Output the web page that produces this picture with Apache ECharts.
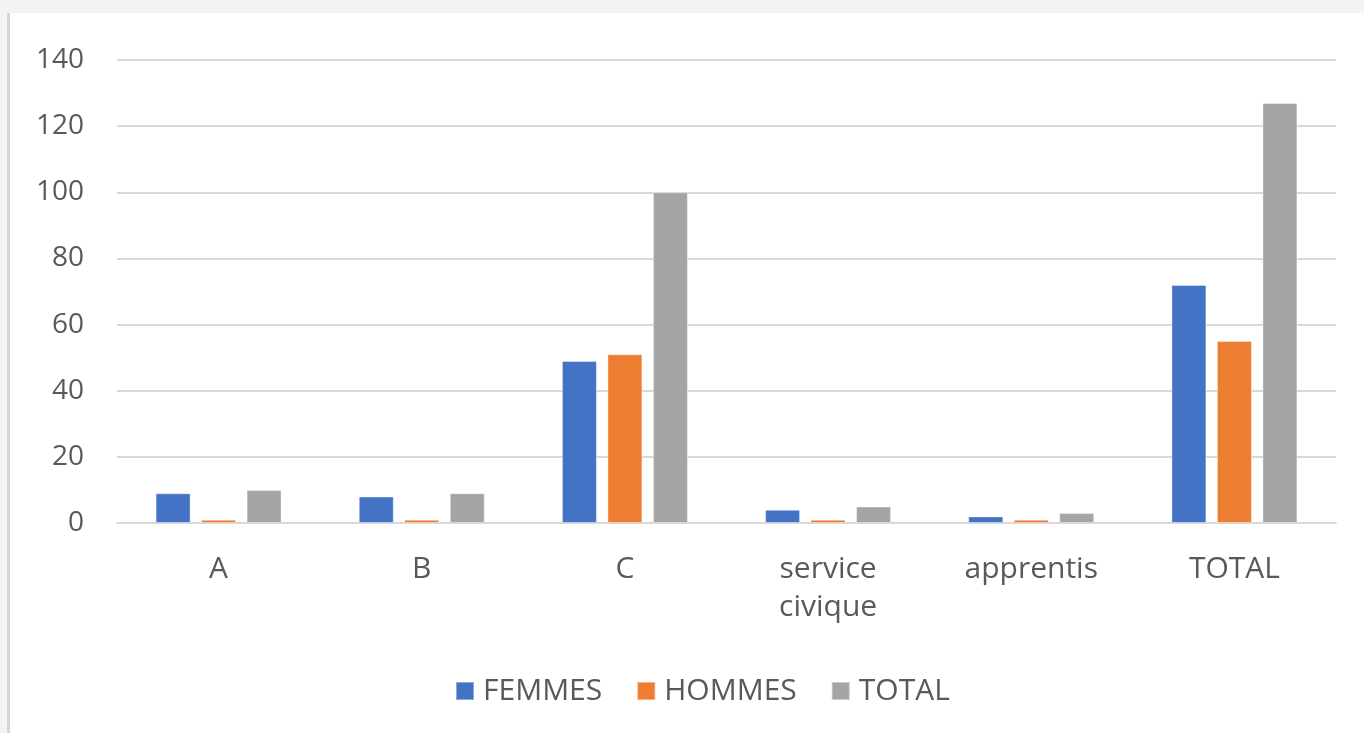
<!DOCTYPE html>
<html>
<head>
<meta charset="utf-8">
<script src="https://cdn.jsdelivr.net/npm/echarts@6/dist/echarts.min.js"></script>
<style>
html,body{margin:0;padding:0;width:1364px;height:733px;overflow:hidden;background:#f3f2f5;}
#bg{position:absolute;left:7px;top:13px;width:1357px;height:720px;background:#fff;border-left:3px solid #d5d5d5;box-sizing:border-box;}
#chart{position:absolute;left:0;top:0;width:1364px;height:733px;}
</style>
</head>
<body>
<div id="bg"></div>
<div id="chart"></div>
<script>
const categories = ['A', 'B', 'C', 'service\ncivique', 'apprentis', 'TOTAL'];
const femmes = [9, 8, 49, 4, 2, 72];
const hommes = [1, 1, 51, 1, 1, 55];
const total = [10, 9, 100, 5, 3, 127];
const seriesNames = ['FEMMES', 'HOMMES', 'TOTAL'];
const colors = ['#4472c4', '#ed7d31', '#a5a5a5'];

const font = '"Open Sans", "Noto Sans", sans-serif';
const chart = echarts.init(document.getElementById('chart'), null, {renderer: 'canvas'});
const mk = (name, data, i) => ({
  name, type: 'bar', data,
  barWidth: 35, barGap: '30%',
  itemStyle: {color: colors[i], borderColor: 'rgba(255,255,255,0.4)', borderWidth: 1},
  emphasis: {disabled: true}
});
chart.setOption({
  backgroundColor: 'transparent',
  animation: false,
  grid: {left: 117, right: 28, top: 60, bottom: 210, containLabel: false},
  legend: {
    data: seriesNames, left: 450, top: 671,
    itemWidth: 18, itemHeight: 18, itemGap: 34,
    icon: 'rect',
    textStyle: {fontFamily: font, fontSize: 30, color: '#595959', padding: [0, 0, 0, 4]}
  },
  xAxis: {
    type: 'category', data: categories,
    axisLine: {lineStyle: {color: '#d9d9d9', width: 2}},
    axisTick: {show: false},
    axisLabel: {fontFamily: font, fontSize: 30, color: '#595959', margin: 27, lineHeight: 38, interval: 0}
  },
  yAxis: {
    type: 'value', min: 0, max: 140, interval: 20,
    axisLine: {show: false}, axisTick: {show: false},
    splitLine: {lineStyle: {color: '#d9d9d9', width: 2}},
    axisLabel: {fontFamily: font, fontSize: 28, color: '#595959', margin: 33}
  },
  series: [mk(seriesNames[0], femmes, 0), mk(seriesNames[1], hommes, 1), mk(seriesNames[2], total, 2)]
});
</script>
</body>
</html>
